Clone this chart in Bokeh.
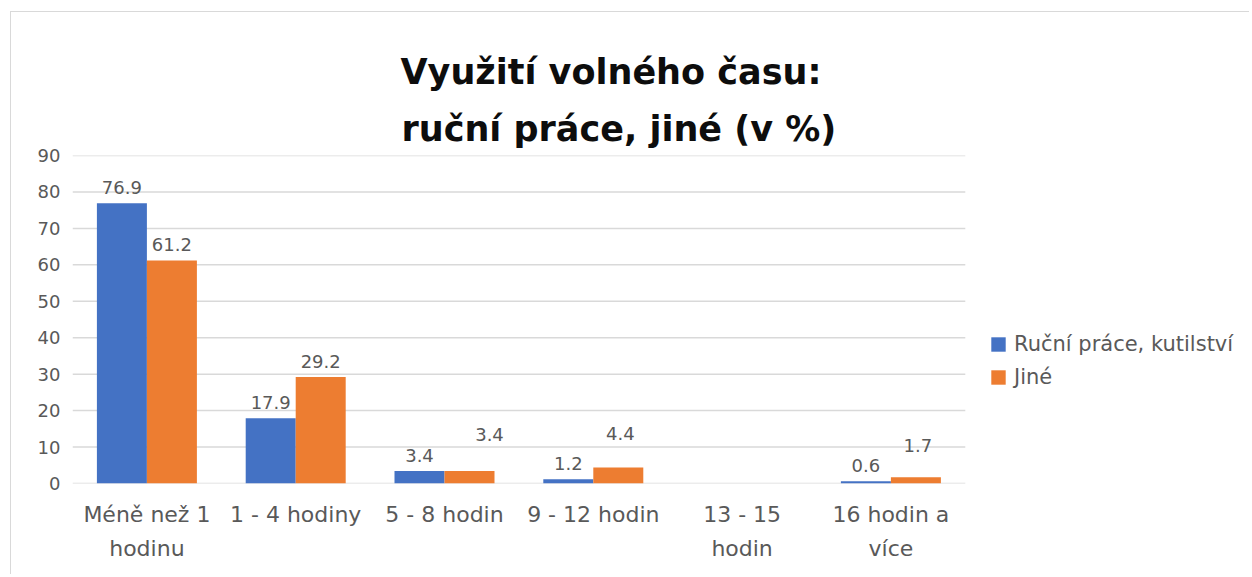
import math
from bokeh.plotting import figure
from bokeh.models import (ColumnDataSource, Legend, LegendItem, Title, Range1d,
                          FixedTicker, LinearAxis)
from bokeh.embed import file_html
from bokeh.resources import INLINE
from bokeh.core.properties import value

nan = float("nan")
categories = ["Méně než 1 hodinu", "1 - 4 hodiny", "5 - 8 hodin", "9 - 12 hodin", "13 - 15 hodin", "16 hodin a více"]
label_line1 = ["Méně než 1", "1 - 4 hodiny", "5 - 8 hodin", "9 - 12 hodin", "13 - 15", "16 hodin a"]
label_line2 = ["hodinu", "", "", "", "hodin", "více"]
series_names = ["Ruční práce, kutilství", "Jiné"]
rucni = [76.9, 17.9, 3.4, 1.2, nan, 0.6]
jine = [61.2, 29.2, 3.4, 4.4, nan, 1.7]
y_ticks = [0, 10, 20, 30, 40, 50, 60, 70, 80, 90]
title_lines = ["Využití volného času:", "ruční práce, jiné (v %)"]

# label placement tweaks (pixels) for the manually moved data labels
jine_label_lift = [0, 0, 21, 18, 0, 16]
jine_label_shift = [0, 0, 20, 2, 0, 2]

BLUE = "#4472C4"
ORANGE = "#ED7D31"
GREY = "#595959"
GRID = "#D9D9D9"
FONT = "DejaVu Sans"

# layout
FIG_W, FIG_H = 1239, 563
BORDER_L, BORDER_TOP, BORDER_BOTTOM = 61, 143, 92
CAT_PX = 148.8           # pixel width of one category slot
FRAME_W = FIG_W - BORDER_L
bw = 0.336               # bar width in category units
LABEL_DY = -9

n = len(categories)
xpos = list(range(n))

def fmt(v):
    return "" if (v is None or math.isnan(v)) else f"{v:.1f}"

src = ColumnDataSource(dict(
    x1=[i - bw / 2 for i in xpos],
    x2=[i + bw / 2 for i in xpos],
    rucni=rucni,
    jine=jine,
    rucni_txt=[fmt(v) for v in rucni],
    jine_txt=[fmt(v) for v in jine],
    rucni_y=[0 if math.isnan(v) else v for v in rucni],
    jine_y=[0 if math.isnan(v) else v for v in jine],
    rucni_dy=[LABEL_DY for _ in rucni],
    jine_dy=[LABEL_DY - d for d in jine_label_lift],
    jine_dx=jine_label_shift,
))

p = figure(x_range=Range1d(-0.5, -0.5 + FRAME_W / CAT_PX), y_range=Range1d(y_ticks[0], y_ticks[-1]),
           width=FIG_W, height=FIG_H, output_backend="svg", toolbar_location=None,
           min_border_left=BORDER_L, min_border_right=0, min_border_bottom=BORDER_BOTTOM,
           min_border_top=BORDER_TOP)
p.outline_line_color = None
p.xgrid.grid_line_color = None
p.ygrid.grid_line_color = None

# horizontal gridlines spanning only the category area
p.segment(x0=[-0.5] * len(y_ticks), x1=[n - 0.5] * len(y_ticks), y0=y_ticks, y1=y_ticks,
          line_color=GRID, line_width=1.5)

r1 = p.vbar(x="x1", top="rucni", width=bw, source=src, fill_color=BLUE, line_color=None)
r2 = p.vbar(x="x2", top="jine", width=bw, source=src, fill_color=ORANGE, line_color=None)

p.text(x="x1", y="rucni_y", text="rucni_txt", source=src,
       text_align="center", text_baseline="bottom", y_offset="rucni_dy",
       text_font=value(FONT), text_font_size="18px", text_color=GREY)
p.text(x="x2", y="jine_y", text="jine_txt", source=src,
       text_align="center", text_baseline="bottom", y_offset="jine_dy", x_offset="jine_dx",
       text_font=value(FONT), text_font_size="18px", text_color=GREY)

def style_axis(ax, size):
    ax.axis_line_color = None
    ax.major_tick_line_color = None
    ax.minor_tick_line_color = None
    ax.major_tick_out = 0
    ax.major_tick_in = 0
    ax.major_label_text_color = GREY
    ax.major_label_text_font = FONT
    ax.major_label_text_font_size = size

p.yaxis.ticker = FixedTicker(ticks=y_ticks)
style_axis(p.yaxis[0], "18px")
p.yaxis.major_label_standoff = 12

xa1 = p.xaxis[0]
xa1.ticker = FixedTicker(ticks=xpos)
xa1.major_label_overrides = {i: label_line1[i] for i in xpos}
style_axis(xa1, "22px")
xa1.major_label_standoff = 18

two_line = [i for i in xpos if label_line2[i]]
xa2 = LinearAxis(ticker=FixedTicker(ticks=two_line),
                 major_label_overrides={i: label_line2[i] for i in two_line})
style_axis(xa2, "22px")
xa2.major_label_standoff = 6
p.add_layout(xa2, "below")

# title (two lines)
p.title.text = title_lines[0]
p.title.align = "left"
p.title.offset = 328
p.title.text_font = FONT
p.title.text_font_size = "35px"
p.title.text_font_style = "bold"
p.title.text_color = "#0D0D0D"
p.title.standoff = 15
p.add_layout(Title(text=title_lines[1], align="left", offset=329, text_font=FONT,
                   text_font_size="35px", text_font_style="bold", text_color="#0D0D0D",
                   standoff=14), "above")

legend = Legend(items=[LegendItem(label=series_names[0], renderers=[r1]),
                       LegendItem(label=series_names[1], renderers=[r2])],
                location=(917, 94), orientation="vertical",
                background_fill_alpha=0, border_line_alpha=0, margin=0, padding=0,
                glyph_width=18, glyph_height=18, label_standoff=7, spacing=9,
                label_text_font=FONT, label_text_font_size="21px", label_text_color=GREY,
                label_height=20)
p.add_layout(legend)

p.styles = {"margin-left": "10px", "margin-top": "11px",
            "border-left": "1px solid #D9D9D9", "border-top": "1px solid #D9D9D9"}

open("out.html", "w").write(file_html(p, INLINE))
